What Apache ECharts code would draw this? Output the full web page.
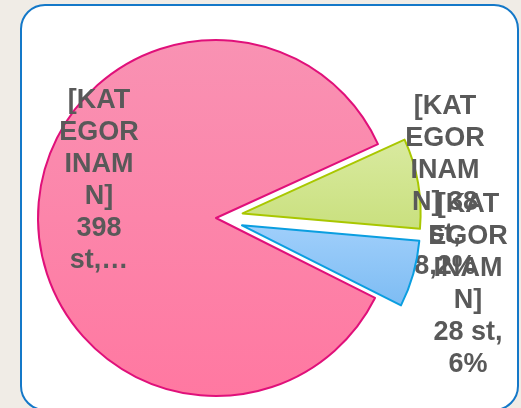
<!DOCTYPE html>
<html>
<head>
<meta charset="utf-8">
<script src="https://cdn.jsdelivr.net/npm/echarts@6/dist/echarts.min.js"></script>
<style>
html,body{margin:0;padding:0;background:#F0ECE6;}
#c{width:521px;height:408px;}
</style>
</head>
<body>
<div id="c"></div>
<script>
const categories = ['[KATEGORINAMN]', '[KATEGORINAMN]', '[KATEGORINAMN]'];
const values = [398, 38, 28];
const exploded = [false, true, true];
const labelTexts = [
  '[KAT\nEGOR\nINAM\nN]\n398\nst,…',
  '[KAT\nEGOR\nINAM\nN] 38\nst,\n8,2%',
  '[KAT\nEGOR\nINAM\nN]\n28 st,\n6%'
];

const fills = [
  new echarts.graphic.LinearGradient(0, 0, 0, 1, [{offset: 0, color: '#F992B3'}, {offset: 1, color: '#FF78A1'}]),
  new echarts.graphic.LinearGradient(0, 0, 0, 1, [{offset: 0, color: '#D9EAA0'}, {offset: 1, color: '#C9E07E'}]),
  new echarts.graphic.LinearGradient(0, 0, 0, 1, [{offset: 0, color: '#A0CFFB'}, {offset: 1, color: '#7DBCF3'}])
];
const borders = ['#E0107A', '#A9C700', '#0A9EE0'];
const labelPos = [[99, 181], [445, 187], [468, 285]];

const CX = 216, CY = 218, R = 178, START = -26.7, EXPLODE = 27;
const total = values.reduce((a, b) => a + b, 0);

// explode offset along each slice's mid angle (clockwise from START)
let acc = 0;
const centers = values.map((v, i) => {
  const mid = START - (acc + v / 2) / total * 360;
  acc += v;
  const d = exploded[i] ? EXPLODE : 0;
  const a = mid * Math.PI / 180;
  return [CX + d * Math.cos(a), CY - d * Math.sin(a)];
});

const chart = echarts.init(document.getElementById('c'), null, {renderer: 'canvas'});

const series = values.map((_, k) => ({
  type: 'pie',
  center: centers[k],
  radius: [0, R],
  startAngle: START,
  clockwise: true,
  silent: true,
  avoidLabelOverlap: false,
  emphasis: {disabled: true},
  labelLine: {show: false},
  z: 2 + k,
  label: {
    show: true,
    position: 'inside',
    color: '#595959',
    fontFamily: 'Liberation Sans, Arial, sans-serif',
    fontWeight: 'bold',
    fontSize: 27,
    lineHeight: 32,
    align: 'center'
  },
  labelLayout: function (p) {
    const q = labelPos[p.dataIndex];
    return {x: q[0], y: q[1], align: 'center', verticalAlign: 'middle'};
  },
  data: values.map((v, i) => (i === k ? {
    name: categories[i],
    value: v,
    itemStyle: {color: fills[i], borderColor: borders[i], borderWidth: 2},
    label: {formatter: labelTexts[i]}
  } : {
    name: categories[i],
    value: v,
    itemStyle: {color: 'rgba(0,0,0,0)', borderWidth: 0},
    label: {show: false}
  }))
}));

chart.setOption({
  animation: false,
  graphic: [{
    type: 'rect',
    shape: {x: 21, y: 5, width: 497, height: 405, r: 24},
    style: {fill: '#FFFFFF', stroke: '#1478C8', lineWidth: 2},
    z: -10,
    silent: true
  }],
  series: series
});
</script>
</body>
</html>
